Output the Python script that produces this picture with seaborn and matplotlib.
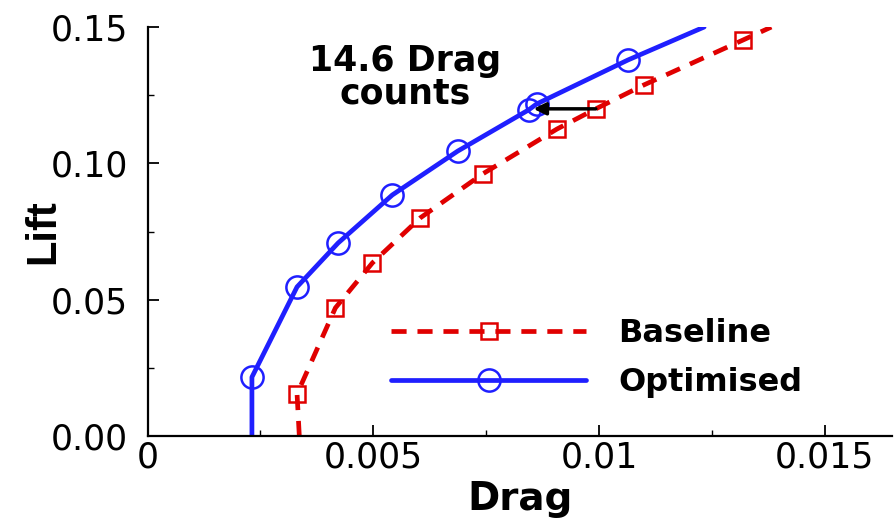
import matplotlib
matplotlib.use("Agg")
import matplotlib.pyplot as plt
import seaborn as sns
import pandas as pd
from matplotlib.ticker import MultipleLocator, FuncFormatter
from matplotlib.lines import Line2D

# ---- data ----
baseline_drag = [0.00336, 0.00331, 0.00416, 0.00498, 0.00604, 0.00742, 0.00907, 0.00993, 0.01100, 0.01320, 0.01382]
baseline_lift = [0.0000, 0.0154, 0.0470, 0.0635, 0.0800, 0.0961, 0.1126, 0.1200, 0.1288, 0.1453, 0.1500]
optimised_drag = [0.00231, 0.00231, 0.00331, 0.00422, 0.00542, 0.00687, 0.00844, 0.00862, 0.01064, 0.01233]
optimised_lift = [0.0000, 0.0216, 0.0547, 0.0708, 0.0884, 0.1045, 0.1196, 0.1218, 0.1379, 0.1500]
series_names = ["Baseline", "Optimised"]
annotation_text = "14.6 Drag\ncounts"
arrow_from = (0.00993, 0.1200)
arrow_to = (0.00855, 0.1200)

sns.set_theme(style="white")
plt.rcParams["font.family"] = ["DejaVu Sans"]
plt.rcParams["text.color"] = "black"
plt.rcParams["axes.labelcolor"] = "black"
plt.rcParams["xtick.color"] = "black"
plt.rcParams["ytick.color"] = "black"

fig = plt.figure(figsize=(8.95, 5.2), dpi=100)
ax = fig.add_axes([0.165, 0.1615, 0.832, 0.7865])

red = "#e00000"
blue = "#1f1fff"
dash = (0, (3.2, 2.3))

df_b = pd.DataFrame({"Drag": baseline_drag, "Lift": baseline_lift})
df_o = pd.DataFrame({"Drag": optimised_drag, "Lift": optimised_lift})

sns.lineplot(data=df_b, x="Drag", y="Lift", ax=ax, sort=False, estimator=None,
             color=red, linewidth=3.4, linestyle=dash,
             marker="s", markersize=12, markerfacecolor="none",
             markeredgecolor=red, markeredgewidth=1.8, markevery=slice(1, -1))
sns.lineplot(data=df_o, x="Drag", y="Lift", ax=ax, sort=False, estimator=None,
             color=blue, linewidth=3.4, linestyle="-",
             marker="o", markersize=16, markerfacecolor="none",
             markeredgecolor=blue, markeredgewidth=1.8, markevery=slice(1, -1))

ax.set_xlim(0, 0.0165)
ax.set_ylim(0, 0.15)

for s in ["top", "right"]:
    ax.spines[s].set_visible(False)
for s in ["left", "bottom"]:
    ax.spines[s].set_color("black")
    ax.spines[s].set_linewidth(1.6)

ax.xaxis.set_major_locator(MultipleLocator(0.005))
ax.xaxis.set_minor_locator(MultipleLocator(0.0025))
ax.yaxis.set_major_locator(MultipleLocator(0.05))
ax.yaxis.set_minor_locator(MultipleLocator(0.025))
ax.xaxis.set_major_formatter(FuncFormatter(lambda v, p: "0" if abs(v) < 1e-12 else ("%g" % round(v, 4))))
ax.yaxis.set_major_formatter(FuncFormatter(lambda v, p: "%.2f" % v))

ax.tick_params(axis="both", which="major", direction="in", length=8, width=1.3,
               labelsize=25, colors="black", bottom=True, left=True)
ax.tick_params(axis="both", which="minor", direction="in", length=4, width=1.0,
               colors="black", bottom=True, left=True)
ax.tick_params(axis="x", which="major", pad=3)
ax.tick_params(axis="y", which="major", pad=14)

ax.set_xlabel("Drag", fontsize=28, fontweight="bold", labelpad=4)
ax.set_ylabel("Lift", fontsize=30, fontweight="bold",
              family=["Liberation Sans", "DejaVu Sans"])
ax.yaxis.set_label_coords(-0.114, 0.5)

ax.text(0.00571, 0.1315, annotation_text, fontsize=25, fontweight="bold",
        ha="center", va="center", linespacing=0.95)
ax.annotate("", xy=arrow_to, xytext=arrow_from,
            arrowprops=dict(arrowstyle="-|>", color="black", lw=2.5,
                            mutation_scale=18, shrinkA=0, shrinkB=0))

handles = [
    Line2D([], [], color=red, linewidth=3.4, linestyle=dash, marker="s",
           markersize=12, markerfacecolor="none", markeredgecolor=red, markeredgewidth=1.8),
    Line2D([], [], color=blue, linewidth=3.4, marker="o", markersize=16,
           markerfacecolor="none", markeredgecolor=blue, markeredgewidth=1.8),
]
leg = ax.legend(handles, series_names, loc="lower left", bbox_to_anchor=(0.31, 0.062),
                frameon=False, handlelength=6.1, handletextpad=1.0, labelspacing=0.55,
                prop={"size": 23, "weight": "bold"}, borderaxespad=0)

fig.savefig("out.png", dpi=100)
